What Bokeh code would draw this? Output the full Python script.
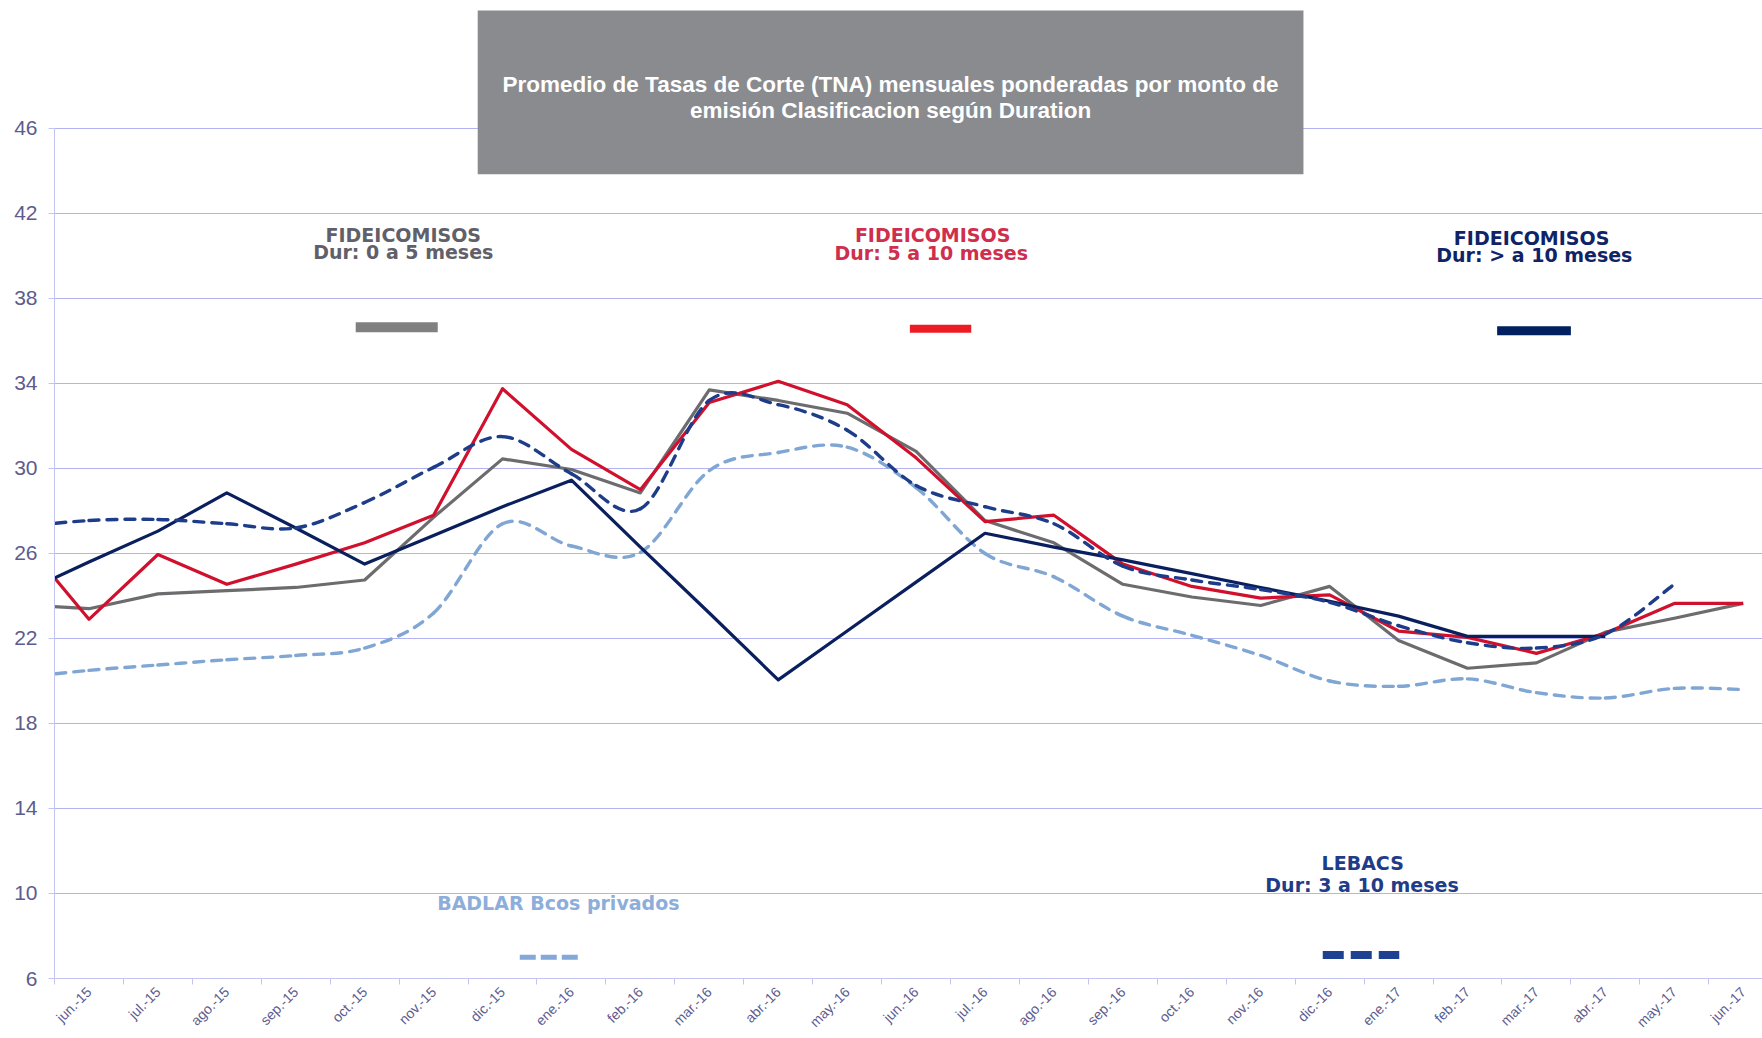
import math
import numpy as np
from bokeh.plotting import figure
from bokeh.models import Range1d, FixedTicker, Label, ColumnDataSource, Arrow
from bokeh.embed import file_html
from bokeh.resources import INLINE

# ---------------- data ----------------
months = ["jun.-15", "jul.-15", "ago.-15", "sep.-15", "oct.-15", "nov.-15", "dic.-15",
          "ene.-16", "feb.-16", "mar.-16", "abr.-16", "may.-16", "jun.-16", "jul.-16",
          "ago.-16", "sep.-16", "oct.-16", "nov.-16", "dic.-16", "ene.-17", "feb.-17",
          "mar.-17", "abr.-17", "may.-17", "jun.-17"]
# series start one month earlier (may.-15), which is cut by the left axis
first_month = "may.-15"

fid_0_5 = [23.6, 23.4, 24.1, 24.25, 24.4, 24.75, 27.7, 30.45, 29.95, 28.85, 33.7, 33.2,
           32.6, 30.8, 27.55, 26.5, 24.55, 23.95, 23.55, 24.45, 21.9, 20.6, 20.85, 22.3,
           22.95, 23.65]
fid_5_10 = [26.8, 22.9, 25.95, 24.55, 25.5, 26.5, 27.8, 33.75, 30.9, 29.0, 33.1, 34.1,
            33.0, 30.5, 27.5, 27.8, 25.5, 24.45, 23.9, 24.05, 22.35, 22.05, 21.3, 22.25,
            23.65, 23.65]
fid_10 = [24.1, 25.6, 27.05, 28.85, 27.2, 25.5, 26.85, 28.2, 29.45, 26.3, 23.2, 20.05,
          22.35, 24.65, 26.95, 26.3, 25.7, 25.05, 24.4, 23.75, 23.05, 22.1, 22.1, 22.1,
          None, None]
lebacs = [27.25, 27.55, 27.6, 27.4, 27.2, 28.4, 30.05, 31.5, 29.75, 28.1, 33.2, 33.0,
          31.8, 29.2, 28.2, 27.4, 25.4, 24.75, 24.3, 23.7, 22.6, 21.8, 21.55, 22.2,
          24.55, None]
badlar = [20.15, 20.5, 20.75, 21.0, 21.2, 21.55, 23.2, 27.4, 26.35, 26.05, 29.9, 30.75,
          31.0, 29.1, 26.0, 24.9, 23.05, 22.15, 21.2, 20.0, 19.75, 20.1, 19.45, 19.2,
          19.65, 19.6]

y_ticks = [6, 10, 14, 18, 22, 26, 30, 34, 38, 42, 46]

title_lines = ["Promedio de Tasas de Corte (TNA) mensuales ponderadas por monto de",
               "emisión Clasificacion según Duration"]

# month index: jun.-15 = 0, so may.-15 = -1
x_idx = list(range(-1, len(months)))

# ---------------- styles ----------------
C_GRAY, C_RED, C_NAVY = "#6c6c6f", "#d0102c", "#0a1f5e"
C_LEB, C_BAD = "#1d3d8a", "#80a6d4"
GRID = "#b3b3f3"
AX = "#c4c4f2"
TICK_TXT = "#5c5c8e"
FONT = "Liberation Sans"
LFONT = "DejaVu Sans"

p = figure(width=1762, height=1038, output_backend="svg", toolbar_location=None,
           x_range=Range1d(-0.5, 24.28), y_range=Range1d(6, 52.02),
           min_border_left=54, min_border_right=0, min_border_top=0,
           min_border_bottom=60)
p.outline_line_color = None
p.background_fill_color = "white"
p.border_fill_color = "white"

# y axis
p.yaxis.ticker = FixedTicker(ticks=y_ticks)
p.yaxis.bounds = (6, 46)
p.yaxis.axis_line_color = AX
p.yaxis.major_tick_line_color = AX
p.yaxis.major_tick_out = 6
p.yaxis.major_tick_in = 0
p.yaxis.minor_tick_line_color = None
p.yaxis.major_label_text_font = FONT
p.yaxis.major_label_text_font_size = "21px"
p.yaxis.major_label_text_color = TICK_TXT
p.yaxis.major_label_standoff = 11

# x axis: labels centred on months, tick marks between months
p.xaxis.ticker = FixedTicker(ticks=list(range(len(months))),
                             minor_ticks=[i - 0.5 for i in range(len(months) + 1)])
p.xaxis.major_label_overrides = {i: m for i, m in enumerate(months)}
p.xaxis.major_label_orientation = math.pi / 4
p.xaxis.major_tick_out = 0
p.xaxis.major_tick_in = 0
p.xaxis.minor_tick_out = 6
p.xaxis.minor_tick_in = 0
p.xaxis.minor_tick_line_color = AX
p.xaxis.axis_line_color = AX
p.xaxis.major_label_text_font = FONT
p.xaxis.major_label_text_font_size = "14px"
p.xaxis.major_label_text_color = TICK_TXT
p.xaxis.major_label_standoff = 5

p.xgrid.grid_line_color = None
p.ygrid.ticker = FixedTicker(ticks=y_ticks)
p.ygrid.grid_line_color = GRID
p.ygrid.grid_line_width = 1

# title box
p.quad(left=5.64, right=17.62, bottom=43.84, top=51.55, fill_color="#8a8b8f",
       line_color=None)
for txt, yy in zip(title_lines, [48.07, 46.85]):
    p.add_layout(Label(x=11.63, y=yy, text=txt, text_align="center",
                       text_baseline="middle", text_font=FONT, text_font_size="22.5px",
                       text_font_style="bold", text_color="white"))


# ---------------- series ----------------
def solid(vals, color):
    xs = [x for x, v in zip(x_idx, vals) if v is not None]
    ys = [v for v in vals if v is not None]
    p.line(xs, ys, line_color=color, line_width=3.2, line_join="round")


def smooth(vals, color):
    # Excel-style smoothed line: one cubic bezier per segment
    xs = np.array([x for x, v in zip(x_idx, vals) if v is not None], float)
    ys = np.array([v for v in vals if v is not None], float)
    n = len(xs)
    d = dict(x0=[], y0=[], x1=[], y1=[], cx0=[], cy0=[], cx1=[], cy1=[])
    for i in range(n - 1):
        a = max(i - 1, 0)
        b = min(i + 2, n - 1)
        d["x0"].append(xs[i]); d["y0"].append(ys[i])
        d["x1"].append(xs[i + 1]); d["y1"].append(ys[i + 1])
        d["cx0"].append(xs[i] + (xs[i + 1] - xs[a]) / 6)
        d["cy0"].append(ys[i] + (ys[i + 1] - ys[a]) / 6)
        d["cx1"].append(xs[i + 1] - (xs[b] - xs[i]) / 6)
        d["cy1"].append(ys[i + 1] - (ys[b] - ys[i]) / 6)
    p.bezier(x0="x0", y0="y0", x1="x1", y1="y1", cx0="cx0", cy0="cy0",
             cx1="cx1", cy1="cy1", source=ColumnDataSource(d), line_color=color,
             line_width=3.4, line_dash="10 8", line_cap="round")


smooth(badlar, C_BAD)
solid(fid_0_5, C_GRAY)
solid(fid_5_10, C_RED)
solid(fid_10, C_NAVY)
smooth(lebacs, C_LEB)

# ---------------- custom legend ----------------
legend_texts = [
    ("FIDEICOMISOS", 4.56, 41.0, "#5f6069"),
    ("Dur: 0 a 5 meses", 4.56, 40.18, "#5f6069"),
    ("FIDEICOMISOS", 12.24, 40.98, "#cf2e4c"),
    ("Dur: 5 a 10 meses", 12.22, 40.15, "#cf2e4c"),
    ("FIDEICOMISOS", 20.93, 40.86, "#0f2466"),
    ("Dur: > a 10 meses", 20.97, 40.06, "#0f2466"),
    ("BADLAR Bcos privados", 6.81, 9.56, "#8dadda"),
    ("LEBACS", 18.48, 11.43, "#1f3c88"),
    ("Dur: 3 a 10 meses", 18.47, 10.38, "#1f3c88"),
]
for txt, xx, yy, col in legend_texts:
    p.add_layout(Label(x=xx, y=yy, text=txt, text_align="center",
                       text_baseline="middle", text_font=LFONT, text_font_size="19px",
                       text_font_style="bold", text_color=col))

swatches = [
    (3.87, 5.06, 36.64, "#808080", 10, "solid"),
    (11.91, 12.80, 36.57, "#ed1c24", 8, "solid"),
    (20.43, 21.50, 36.48, "#002060", 9, "solid"),
    (6.25, 7.11, 7.0, "#84a8d8", 5, "16 5"),
    (17.90, 19.01, 7.11, "#1f4191", 8, "21 7"),
]
for xa, xb, yy, col, w, dash in swatches:
    p.add_layout(Arrow(x_start=xa, y_start=yy, x_end=xb, y_end=yy, end=None,
                       line_color=col, line_width=w, line_dash=dash, line_cap="butt"))

open("out.html", "w").write(file_html(p, INLINE))
